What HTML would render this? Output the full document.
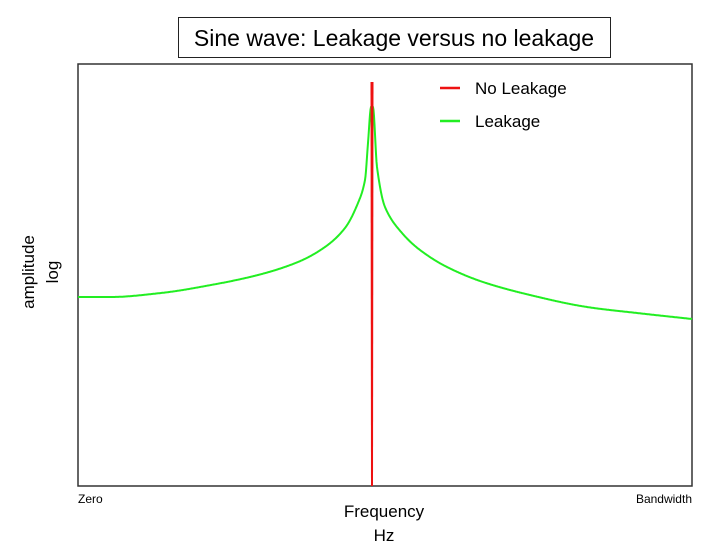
<!DOCTYPE html>
<html><head><style>body{margin:0;background:#fff}svg{display:block;font-family:"Liberation Sans",sans-serif}</style></head>
<body>
<svg id="s" width="720" height="547" xmlns="http://www.w3.org/2000/svg">
<rect x="178.5" y="17.5" width="432" height="40" fill="#fff" stroke="#222" stroke-width="1"/>
<text x="394" y="46" font-size="23" text-anchor="middle" fill="#000">Sine wave: Leakage versus no leakage</text>
<rect x="78" y="64" width="614" height="422" fill="#fff" stroke="#333" stroke-width="1.5"/>
<path id="g" fill="none" stroke="#22ee22" stroke-width="2"/>
<polygon points="370.5,82 373.5,82 373,486 371,486" fill="#ee1111"/>
<line x1="440" y1="88" x2="460" y2="88" stroke="#ee1111" stroke-width="2.5"/>
<text x="475" y="94" font-size="17">No Leakage</text>
<line x1="440" y1="121" x2="460" y2="121" stroke="#22ee22" stroke-width="2.5"/>
<text x="475" y="127" font-size="17">Leakage</text>
<g transform="translate(34,272) rotate(-90)" font-size="17" text-anchor="middle">
<text x="0" y="0">amplitude</text><text x="0" y="24">log</text></g>
<text x="78" y="503" font-size="12">Zero</text>
<text x="692" y="503" font-size="12" text-anchor="end">Bandwidth</text>
<text x="384" y="517" font-size="17" text-anchor="middle">Frequency</text>
<text x="384" y="541" font-size="17" text-anchor="middle">Hz</text>
</svg>
<script>
var L=[[0,106],[1,107],[4,143],[7,180],[14,203],[27,228],[47,247],[74,262],[114,275],[161,285],[211,293],[261,297],[294,297]];
var R=[[0,106],[1,107],[5,167],[13,207],[30,233],[48,250],[75,267],[111,282],[158,295],[215,307],[265,313],[320,319]];
function prep(P){var t=P.map(function(p){return p[0]}),y=P.map(function(p){return p[1]}),n=P.length,s=[],m=[];
for(var i=0;i<n-1;i++)s.push((y[i+1]-y[i])/(t[i+1]-t[i]));
m[0]=s[0];m[n-1]=s[n-2];for(i=1;i<n-1;i++){m[i]=s[i-1]*s[i]<=0?0:2/(1/s[i-1]+1/s[i]);}
return {t:t,y:y,m:m};}
function ev(S,t){var n=S.t.length;for(var i=0;i<n-1;i++){if(t<=S.t[i+1]||i==n-2){var h=S.t[i+1]-S.t[i],u=(t-S.t[i])/h;
var h00=2*u*u*u-3*u*u+1,h10=u*u*u-2*u*u+u,h01=-2*u*u*u+3*u*u,h11=u*u*u-u*u;
return h00*S.y[i]+h10*h*S.m[i]+h01*S.y[i+1]+h11*h*S.m[i+1];}}}
var SL=prep(L),SR=prep(R);
var d="";for(var x=78;x<=692;x+=0.5){var dd=Math.abs(x-372);var y=ev(x<372?SL:SR,dd);d+=(x==78?"M":"L")+x+","+y.toFixed(1);}
document.getElementById("g").setAttribute("d",d);
</script>
</body></html>
